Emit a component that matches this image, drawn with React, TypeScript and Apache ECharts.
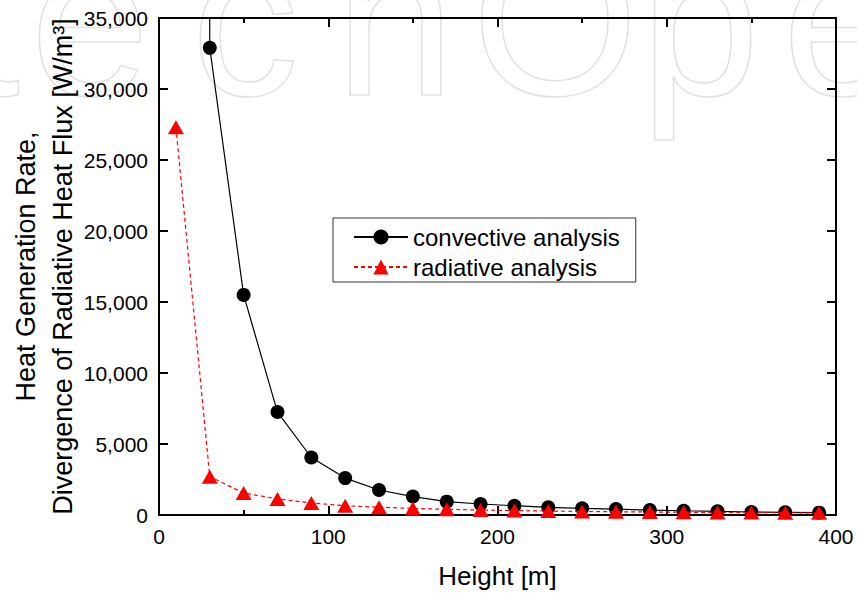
import React, { useEffect, useRef } from "react";
import * as echarts from "echarts";

const FONT = '"Liberation Sans", Arial, sans-serif';

// Heights [m]
const convectiveHeights = [10, 30, 50, 70, 90, 110, 130, 150, 170, 190, 210, 230, 250, 270, 290, 310, 330, 350, 370, 390];
// Heat generation rate [W/m3] (first point lies far above the plotted range)
const convectiveValues = [900000, 32900, 15500, 7250, 4050, 2600, 1760, 1300, 940, 775, 655, 540, 470, 420, 350, 300, 260, 210, 190, 165];

const radiativeHeights = [10, 30, 50, 70, 90, 110, 130, 150, 170, 190, 210, 230, 250, 270, 290, 310, 330, 350, 370, 390];
const radiativeValues = [27300, 2700, 1550, 1130, 850, 650, 550, 460, 400, 350, 310, 280, 250, 230, 210, 195, 180, 170, 160, 150];

const seriesNames = ["convective analysis", "radiative analysis"];
const xTitle = "Height [m]";
const yTitleLine1 = "Heat Generation Rate,";
const yTitleLine2 = "Divergence of Radiative Heat Flux [W/m³]";

const watermarkLetters = ["n", "t", "e", "c", "h", "O", "p", "e"];
const watermarkCenters = [-95, -10, 90, 245, 395, 555, 700, 842];

export default function App() {
  const ref = useRef<HTMLDivElement>(null);

  useEffect(() => {
    if (!ref.current) return;
    const chart = echarts.init(ref.current, null, { renderer: "svg" });

    const axisLine = { show: true, onZero: false, lineStyle: { color: "#000", width: 2 } };
    const axisTick = { show: true, inside: true, length: 9, lineStyle: { color: "#000", width: 2 } };
    const xMinor = { show: true, splitNumber: 2, length: 5, lineStyle: { color: "#000", width: 2 } };

    chart.setOption({
      animation: false,
      backgroundColor: "#fff",
      textStyle: { fontFamily: FONT },
      graphic: watermarkLetters.map((ch, i) => ({
        type: "text",
        z: -10,
        silent: true,
        x: watermarkCenters[i],
        y: 20,
        style: {
          text: ch,
          x: 0,
          y: 0,
          fontSize: 215,
          fontFamily: "Liberation Sans",
          align: "center",
          verticalAlign: "middle",
          textAlign: "center",
          textVerticalAlign: "middle",
          fill: "rgba(255,255,255,0)",
          stroke: "#e2e2e2",
          lineWidth: 1.5,
        },
      })),
      grid: { left: 159, right: 21, top: 18, bottom: 78, containLabel: false, outerBoundsMode: "none" },
      legend: {
        orient: "vertical",
        left: 333,
        top: 218,
        data: seriesNames,
        backgroundColor: "#fff",
        borderColor: "#333",
        borderWidth: 1,
        borderRadius: 0,
        padding: [7, 16, 3, 20],
        itemWidth: 54,
        itemHeight: 19,
        itemGap: 6,
        textStyle: { fontSize: 24, color: "#000", fontFamily: FONT },
      },
      xAxis: [
        {
          type: "value",
          position: "bottom",
          min: 0,
          max: 400,
          interval: 100,
          axisLine,
          axisTick,
          minorTick: xMinor,
          splitLine: { show: false },
          minorSplitLine: { show: false },
          axisLabel: { fontSize: 21, color: "#000", margin: 11, fontFamily: FONT },
          name: xTitle,
          nameLocation: "middle",
          nameGap: 48,
          nameMoveOverlap: false,
          nameTextStyle: { fontSize: 26, color: "#000", fontFamily: FONT },
        },
        {
          type: "value",
          position: "top",
          min: 0,
          max: 400,
          interval: 100,
          axisLine,
          axisTick,
          minorTick: xMinor,
          splitLine: { show: false },
          axisLabel: { show: false },
        },
      ],
      yAxis: [
        {
          type: "value",
          position: "left",
          min: 0,
          max: 35000,
          interval: 5000,
          axisLine,
          axisTick,
          splitLine: { show: false },
          axisLabel: {
            fontSize: 21,
            color: "#000",
            margin: 11,
            fontFamily: FONT,
            formatter: (v: number) => v.toLocaleString("en-US"),
          },
          name: `${yTitleLine1}\n${yTitleLine2}`,
          nameLocation: "middle",
          nameGap: 78,
          nameMoveOverlap: false,
          nameRotate: 90,
          nameTextStyle: { fontSize: 27, color: "#000", fontFamily: FONT, lineHeight: 37, align: "center" },
        },
        {
          type: "value",
          position: "right",
          min: 0,
          max: 35000,
          interval: 5000,
          axisLine,
          axisTick,
          splitLine: { show: false },
          axisLabel: { show: false },
        },
      ],
      series: [
        {
          name: seriesNames[0],
          type: "line",
          clip: true,
          data: convectiveHeights.map((h, i) => [h, convectiveValues[i]]),
          symbol: "circle",
          symbolSize: 14,
          itemStyle: { color: "#000" },
          lineStyle: { color: "#000", width: 1.2, type: "solid" },
          z: 3,
        },
        {
          name: seriesNames[1],
          type: "line",
          clip: true,
          data: radiativeHeights.map((h, i) => [h, radiativeValues[i]]),
          symbol: "triangle",
          symbolSize: [16, 14],
          itemStyle: { color: "#ff0000" },
          lineStyle: { color: "#ff0000", width: 1.2, type: [4, 3] },
          z: 4,
        },
      ],
    });

    return () => chart.dispose();
  }, []);

  return (
    <div
      ref={ref}
      style={{ position: "fixed", left: 0, top: 0, width: 857, height: 593, background: "#fff" }}
    />
  );
}
